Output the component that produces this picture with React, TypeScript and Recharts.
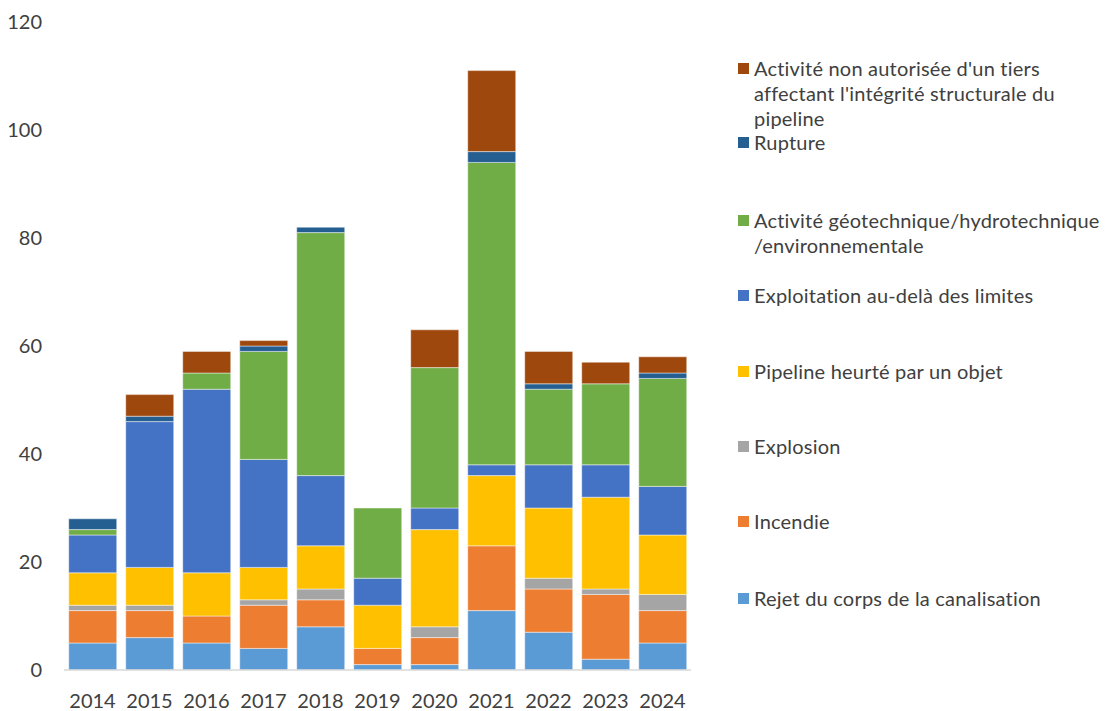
import React from 'react'
import { BarChart, Bar, XAxis, YAxis } from 'recharts'

const YEARS = ['2014', '2015', '2016', '2017', '2018', '2019', '2020', '2021', '2022', '2023', '2024']

// bottom to top of each stack
const REJET = [5, 6, 5, 4, 8, 1, 1, 11, 7, 2, 5]
const INCENDIE = [6, 5, 5, 8, 5, 3, 5, 12, 8, 12, 6]
const EXPLOSION = [1, 1, 0, 1, 2, 0, 2, 0, 2, 1, 3]
const HEURTE = [6, 7, 8, 6, 8, 8, 18, 13, 13, 17, 11]
const EXPLOITATION = [7, 27, 34, 20, 13, 5, 4, 2, 8, 6, 9]
const GEO = [1, 0, 3, 20, 45, 13, 26, 56, 14, 15, 20]
const RUPTURE = [2, 1, 0, 1, 1, 0, 0, 2, 1, 0, 1]
const TIERS = [0, 4, 4, 1, 0, 0, 7, 15, 6, 4, 3]

const Y_TICKS = [0, 20, 40, 60, 80, 100, 120]

const SERIES = [
  { key: 'rejet', values: REJET, color: '#5B9BD5', lines: ['Rejet du corps de la canalisation'] },
  { key: 'incendie', values: INCENDIE, color: '#ED7D31', lines: ['Incendie'] },
  { key: 'explosion', values: EXPLOSION, color: '#A5A5A5', lines: ['Explosion'] },
  { key: 'heurte', values: HEURTE, color: '#FFC000', lines: ['Pipeline heurté par un objet'] },
  { key: 'exploitation', values: EXPLOITATION, color: '#4472C4', lines: ['Exploitation au-delà des limites'] },
  {
    key: 'geo',
    values: GEO,
    color: '#70AD47',
    lines: ['Activité géotechnique/hydrotechnique', '/environnementale'],
  },
  { key: 'rupture', values: RUPTURE, color: '#255E91', lines: ['Rupture'] },
  {
    key: 'tiers',
    values: TIERS,
    color: '#9E480E',
    lines: ["Activité non autorisée d'un tiers", "affectant l'intégrité structurale du", 'pipeline'],
  },
]

const data = YEARS.map((year, i) => {
  const row: Record<string, string | number> = { year }
  SERIES.forEach((s) => {
    row[s.key] = s.values[i]
  })
  return row
})

const FONT = 'Lato, "Open Sans", sans-serif'
const TEXT = '#404040'

// legend: vertical centre of each entry's first line, top entry first
const LEGEND_TOPS = [68, 142, 220, 295, 371, 446, 521, 598]
const LINE_H = 25

function Legend() {
  const items = [...SERIES].reverse()
  return (
    <div
      style={{
        position: 'absolute',
        left: 0,
        top: 0,
        fontFamily: FONT,
        fontSize: 20,
        letterSpacing: 0.2,
        color: TEXT,
      }}
    >
      {items.map((s, i) => (
        <div
          key={s.key}
          style={{ position: 'absolute', left: 738, top: LEGEND_TOPS[i] - LINE_H / 2, whiteSpace: 'nowrap' }}
        >
          <div
            style={{
              position: 'absolute',
              left: 0,
              top: (LINE_H - 11) / 2,
              width: 11,
              height: 11,
              background: s.color,
            }}
          />
          {s.lines.map((ln, j) => (
            <div key={j} style={{ marginLeft: 16, height: LINE_H, lineHeight: LINE_H + 'px' }}>
              {ln}
            </div>
          ))}
        </div>
      ))}
    </div>
  )
}

export default function App() {
  return (
    <div style={{ position: 'absolute', left: 0, top: 0, width: 1113, height: 711, background: '#fff' }}>
      <BarChart
        width={1113}
        height={711}
        data={data}
        margin={{ top: 22, right: 422, left: 0, bottom: 0 }}
        barCategoryGap="8.3%"
      >
        <XAxis
          dataKey="year"
          height={41}
          axisLine={{ stroke: '#D9D9D9', strokeWidth: 1.5 }}
          tickLine={false}
          tickMargin={18}
          tick={{ fill: TEXT, fontSize: 20, fontFamily: FONT }}
        />
        <YAxis
          width={64}
          domain={[0, 120]}
          ticks={Y_TICKS}
          axisLine={false}
          tickLine={false}
          tickMargin={16}
          tick={{ fill: TEXT, fontSize: 20, fontFamily: FONT }}
        />
        {SERIES.map((s) => (
          <Bar
            key={s.key}
            dataKey={s.key}
            stackId="a"
            fill={s.color}
            stroke="#ffffff"
            strokeOpacity={0.45}
            strokeWidth={1}
            isAnimationActive={false}
          />
        ))}
      </BarChart>
      <Legend />
    </div>
  )
}
